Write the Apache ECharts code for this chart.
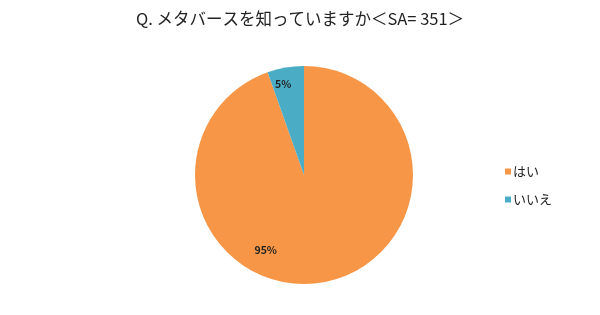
<!DOCTYPE html>
<html><head><meta charset="utf-8">
<script src="https://cdn.jsdelivr.net/npm/echarts@6/dist/echarts.min.js"></script>
<style>html,body{margin:0;padding:0;background:#fff}#c{width:600px;height:315px}</style>
</head><body><div id="c"></div>
<script>
const titleText = 'Q. メタバースを知っていますか＜SA= 351＞';
const categories = ['はい', 'いいえ'];
const values = [332, 19];
const colors = ['#F79646', '#4BACC6'];
const labelShift = [[-48, 18], [-11, -34]];

const chart = echarts.init(document.getElementById('c'), null, {renderer: 'canvas'});
chart.setOption({
  animation: false,
  textStyle: {fontFamily: '"Noto Sans CJK JP", sans-serif'},
  title: {
    text: titleText, left: 'center', top: 5,
    textStyle: {fontSize: 16.5, fontWeight: 'normal', color: '#222', fontFamily: '"Noto Sans CJK JP", sans-serif'}
  },
  legend: {
    orient: 'vertical', left: 500, top: 160,
    itemWidth: 6, itemHeight: 6, itemGap: 15, icon: 'rect',
    textStyle: {fontSize: 13, color: '#222', padding: [0, 0, 0, -3]},
    data: categories
  },
  series: [{
    type: 'pie',
    center: [304, 175], radius: 109,
    startAngle: 90, clockwise: true,
    data: categories.map((c, i) => ({name: c, value: values[i], itemStyle: {color: colors[i]}})),
    label: {
      show: true, position: 'inside', fontSize: 10.5, fontWeight: 'bold', color: '#222',
      formatter: p => Math.round(p.percent) + '%'
    },
    labelLayout: p => ({dx: labelShift[p.dataIndex][0], dy: labelShift[p.dataIndex][1]}),
    labelLine: {show: false},
    emphasis: {disabled: true}
  }]
});
</script></body></html>
